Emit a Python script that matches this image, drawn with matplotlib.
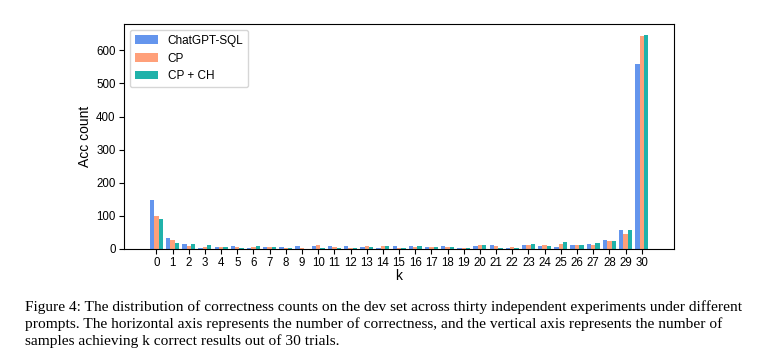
import numpy as np
import matplotlib
matplotlib.use("Agg")
import matplotlib.pyplot as plt

plt.rcParams['font.family'] = ['Liberation Sans', 'DejaVu Sans']

k = list(range(31))
chatgpt_sql = [148, 33, 15, 3, 6, 9, 3, 6, 6, 9, 9, 9, 9, 6, 3, 9,
               9, 6, 9, 3, 9, 12, 3, 12, 9, 6, 12, 15, 27, 57, 560]
cp = [100, 27, 9, 6, 6, 6, 6, 6, 3, 3, 12, 6, 3, 9, 9, 3,
      6, 6, 6, 3, 12, 9, 6, 12, 12, 15, 12, 12, 24, 45, 642]
cp_ch = [91, 18, 15, 12, 6, 3, 9, 6, 3, 1, 3, 3, 3, 6, 9, 3,
         9, 6, 6, 3, 12, 3, 3, 15, 9, 21, 12, 18, 24, 57, 647]
labels = ['ChatGPT-SQL', 'CP', 'CP + CH']
colors = ['cornflowerblue', 'lightsalmon', 'lightseagreen']

caption = ("Figure 4: The distribution of correctness counts on the dev set across thirty independent experiments under different\n"
           "prompts. The horizontal axis represents the number of correctness, and the vertical axis represents the number of\n"
           "samples achieving k correct results out of 30 trials.")

fig = plt.figure(figsize=(7.82, 3.58), dpi=100)
ax = fig.add_axes([0.1586, 0.3045, 0.7034, 0.6285])

x = np.arange(len(k))
w = 0.27
for i, (vals, lab, c) in enumerate(zip([chatgpt_sql, cp, cp_ch], labels, colors)):
    ax.bar(x + (i - 1) * w, vals, w, label=lab, color=c)

ax.set_xticks(x)
ax.set_xticklabels([str(v) for v in k])
ax.set_xlim(-2, 32)
ax.tick_params(labelsize=8.3, pad=2.5)
ax.set_xlabel('k', fontsize=10, labelpad=0)
ax.set_ylabel('Acc count', fontsize=10, labelpad=3)
ax.legend(loc='upper left', fontsize=8.5)

fig.text(0.032, 0.162, caption, family=['Liberation Serif'], fontsize=11.1,
         va='top', ha='left', linespacing=1.3)

fig.savefig('out.png', dpi=100)
